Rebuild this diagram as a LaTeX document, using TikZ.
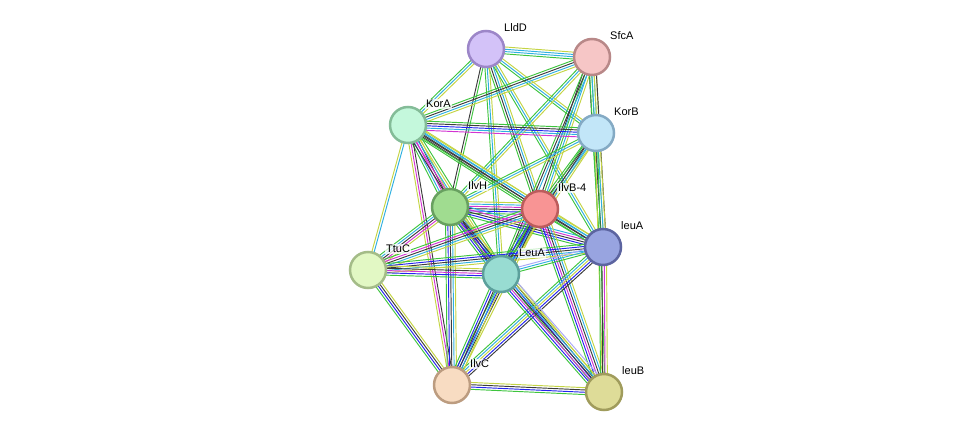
\documentclass[tikz,border=0pt]{standalone}
\usepackage{fontspec}
\setmainfont{Liberation Sans}
\usetikzlibrary{calc,backgrounds}

\definecolor{eG}{HTML}{3EC43E}
\definecolor{eB}{HTML}{2424EE}
\definecolor{eK}{HTML}{3C3C3C}
\definecolor{eM}{HTML}{D234D2}
\definecolor{eC}{HTML}{30B0E0}
\definecolor{eY}{HTML}{C4D444}
\definecolor{eH}{HTML}{A8A8F8}
% node fill / rim
\definecolor{fLldD}{HTML}{D3C2F8}\definecolor{dLldD}{HTML}{9C86C8}
\definecolor{fSfcA}{HTML}{F6C6C6}\definecolor{dSfcA}{HTML}{B88888}
\definecolor{fKorA}{HTML}{C4F8DC}\definecolor{dKorA}{HTML}{84BC98}
\definecolor{fKorB}{HTML}{C2E6F8}\definecolor{dKorB}{HTML}{84AAC4}
\definecolor{fIlvH}{HTML}{A0DC90}\definecolor{dIlvH}{HTML}{68A060}
\definecolor{fIlvB}{HTML}{F89494}\definecolor{dIlvB}{HTML}{BC5C5C}
\definecolor{fleuA}{HTML}{98A4E0}\definecolor{dleuA}{HTML}{5C64A0}
\definecolor{fTtuC}{HTML}{E2F8C4}\definecolor{dTtuC}{HTML}{A4BC88}
\definecolor{fLeuA}{HTML}{98DCD2}\definecolor{dLeuA}{HTML}{5CA09C}
\definecolor{fIlvC}{HTML}{F8DCC2}\definecolor{dIlvC}{HTML}{BC9C80}
\definecolor{fleuB}{HTML}{DEDC98}\definecolor{dleuB}{HTML}{A09C5C}

% parallel evidence lines between two proteins
\newcommand{\evlink}[3]{%
  \foreach \c [count=\n] in {#3}{\xdef\linkcount{\n}}%
  \foreach \c [count=\i] in {#3}{%
    \pgfmathsetmacro\off{(\i-(\linkcount+1)/2)*2.3}%
    \draw[link,draw=\c] ($(#1)!\off pt!90:(#2)$) -- ($(#2)!\off pt!-90:(#1)$);
  }%
}

\begin{document}
\begin{tikzpicture}[
 x=1pt,y=-1pt,
 font=\fontsize{11}{12}\selectfont,
 prot/.style={circle,minimum size=36pt,inner sep=0pt,line width=2.5pt,fill=f#1,draw=d#1},
 lbl/.style={anchor=west,inner sep=1pt,fill=white,fill opacity=0.75,text opacity=1},
 link/.style={line width=0.95pt}
]
\useasboundingbox (0,0) rectangle (976,438);
\node[prot=LldD] (LldD) at (486,49) {};
\node[prot=SfcA] (SfcA) at (592,57) {};
\node[prot=KorA] (KorA) at (408,125) {};
\node[prot=KorB] (KorB) at (596,133) {};
\node[prot=IlvH] (IlvH) at (450,207) {};
\node[prot=IlvB] (IlvB4) at (540,209) {};
\node[prot=leuA] (leuA) at (603,247) {};
\node[prot=TtuC] (TtuC) at (368,270) {};
\node[prot=LeuA] (LeuA) at (501,274) {};
\node[prot=IlvC] (IlvC) at (452,385) {};
\node[prot=leuB] (leuB) at (604,392) {};

\node[lbl] (LldD-l) at ([shift={(17,-21)}]LldD.center) {LldD};
\node[lbl] (SfcA-l) at ([shift={(17,-21)}]SfcA.center) {SfcA};
\node[lbl] (KorA-l) at ([shift={(17,-21)}]KorA.center) {KorA};
\node[lbl] (KorB-l) at ([shift={(17,-21)}]KorB.center) {KorB};
\node[lbl] (IlvH-l) at ([shift={(17,-21)}]IlvH.center) {IlvH};
\node[lbl] (IlvB4-l) at ([shift={(17,-21)}]IlvB4.center) {IlvB-4};
\node[lbl] (leuA-l) at ([shift={(17,-21)}]leuA.center) {leuA};
\node[lbl] (TtuC-l) at ([shift={(17,-21)}]TtuC.center) {TtuC};
\node[lbl] (LeuA-l) at ([shift={(17,-21)}]LeuA.center) {LeuA};
\node[lbl] (IlvC-l) at ([shift={(17,-21)}]IlvC.center) {IlvC};
\node[lbl] (leuB-l) at ([shift={(17,-21)}]leuB.center) {leuB};

\begin{scope}[on background layer]
\evlink{LldD}{SfcA}{eG,eC,eC,eY}
\evlink{LldD}{KorA}{eG,eC,eY}
\evlink{LldD}{KorB}{eG,eC,eY}
\evlink{LldD}{IlvH}{eK,eG}
\evlink{LldD}{IlvB4}{eG,eK,eC,eY}
\evlink{LldD}{LeuA}{eG,eC,eY}
\evlink{LldD}{leuA}{eG,eC,eY}
\evlink{SfcA}{KorA}{eG,eK,eC,eY}
\evlink{SfcA}{KorB}{eK,eG,eC,eY}
\evlink{SfcA}{IlvH}{eG,eC,eY}
\evlink{SfcA}{IlvB4}{eK,eG,eC,eY}
\evlink{SfcA}{LeuA}{eG,eK,eC}
\evlink{SfcA}{leuA}{eG,eC,eY,eK}
\evlink{KorA}{KorB}{eM,eC,eB,eK,eG}
\evlink{KorA}{IlvH}{eG,eC,eM,eK,eY}
\evlink{KorA}{IlvB4}{eG,eK,eK,eC,eY}
\evlink{KorA}{LeuA}{eK,eM,eC,eY,eG}
\evlink{KorA}{TtuC}{eY,eC}
\evlink{KorA}{leuA}{eG,eK,eC,eY}
\evlink{KorA}{IlvC}{eY,eM,eK}
\evlink{KorB}{IlvH}{eG,eC,eY}
\evlink{KorB}{IlvB4}{eG,eK,eC,eY}
\evlink{KorB}{LeuA}{eG,eK,eC,eY}
\evlink{KorB}{leuA}{eG,eK,eC,eY}
\evlink{KorB}{leuB}{eY,eG}
\evlink{IlvH}{IlvB4}{eG,eB,eK,eM,eC,eY}
\evlink{IlvH}{TtuC}{eG,eC,eK,eM,eY}
\evlink{IlvH}{LeuA}{eG,eB,eM,eK,eC,eY}
\evlink{IlvH}{leuA}{eG,eB,eK,eM,eC}
\evlink{IlvH}{IlvC}{eG,eB,eK,eC,eY}
\evlink{IlvH}{leuB}{eG,eB,eK,eY}
\evlink{IlvB4}{leuA}{eG,eK,eC,eY}
\evlink{IlvB4}{TtuC}{eG,eM,eK,eC,eY}
\evlink{IlvB4}{LeuA}{eG,eB,eK,eC,eY}
\evlink{IlvB4}{IlvC}{eG,eB,eK,eY}
\evlink{IlvB4}{leuB}{eG,eB,eM,eK,eC,eY}
\evlink{leuA}{TtuC}{eG,eB,eK,eC,eY}
\evlink{leuA}{LeuA}{eH,eC,eG}
\evlink{leuA}{IlvC}{eG,eC,eY,eB,eK}
\evlink{leuA}{leuB}{eG,eK,eM,eY}
\evlink{TtuC}{LeuA}{eG,eB,eM,eK,eY}
\evlink{TtuC}{IlvC}{eG,eB,eK,eY}
\evlink{LeuA}{IlvC}{eG,eB,eK,eC,eY}
\evlink{LeuA}{leuB}{eG,eB,eM,eK,eC,eY,eH}
\evlink{IlvC}{leuB}{eG,eB,eK,eY}
\end{scope}
\end{tikzpicture}
\end{document}
